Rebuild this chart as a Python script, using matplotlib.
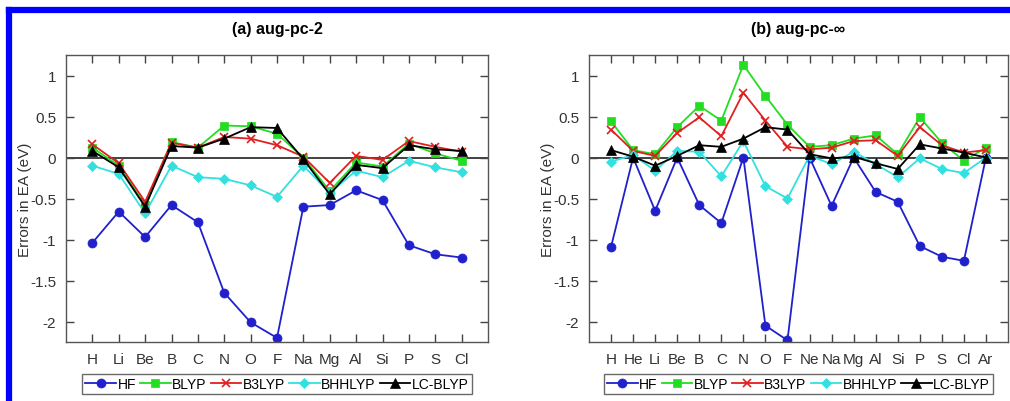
import matplotlib
matplotlib.use("Agg")
import matplotlib.pyplot as plt
from matplotlib.lines import Line2D

plt.rcParams['font.family'] = ['Liberation Sans', 'DejaVu Sans']

# elements for each basis set
elems_a = ['H', 'Li', 'Be', 'B', 'C', 'N', 'O', 'F', 'Na', 'Mg', 'Al', 'Si', 'P', 'S', 'Cl']
elems_b = ['H', 'He', 'Li', 'Be', 'B', 'C', 'N', 'O', 'F', 'Ne', 'Na', 'Mg', 'Al', 'Si',
           'P', 'S', 'Cl', 'Ar']

# errors in EA (eV), panel (a) aug-pc-2
hf_a = [-1.04, -0.66, -0.97, -0.58, -0.79, -1.65, -2.01, -2.20, -0.60, -0.58, -0.40, -0.52, -1.07, -1.18, -1.22]
blyp_a = [0.12, -0.10, -0.58, 0.19, 0.12, 0.39, 0.38, 0.29, 0.00, -0.41, -0.06, -0.11, 0.17, 0.05, -0.04]
b3lyp_a = [0.16, -0.07, -0.54, 0.18, 0.12, 0.25, 0.23, 0.15, 0.01, -0.31, 0.02, -0.03, 0.20, 0.13, 0.07]
bhhlyp_a = [-0.10, -0.20, -0.68, -0.10, -0.24, -0.26, -0.34, -0.48, -0.10, -0.43, -0.16, -0.24, -0.04, -0.12, -0.18]
lcblyp_a = [0.08, -0.12, -0.60, 0.14, 0.12, 0.23, 0.37, 0.36, -0.02, -0.45, -0.09, -0.13, 0.15, 0.10, 0.08]

# panel (b) aug-pc-inf
hf_b = [-1.09, 0.0, -0.65, 0.0, -0.58, -0.80, 0.0, -2.05, -2.23, 0.0, -0.59, 0.0, -0.42, -0.54, -1.08, -1.21, -1.26, 0.0]
blyp_b = [0.44, 0.09, 0.04, 0.37, 0.63, 0.45, 1.13, 0.75, 0.40, 0.13, 0.15, 0.23, 0.27, 0.04, 0.49, 0.18, -0.04, 0.12]
b3lyp_b = [0.34, 0.08, 0.02, 0.30, 0.49, 0.26, 0.79, 0.45, 0.13, 0.10, 0.12, 0.20, 0.21, 0.02, 0.37, 0.15, 0.06, 0.09]
bhhlyp_b = [-0.05, 0.03, -0.16, 0.08, 0.07, -0.23, 0.20, -0.35, -0.50, 0.02, -0.08, 0.07, -0.08, -0.24, -0.01, -0.14, -0.19, 0.0]
lcblyp_b = [0.09, 0.01, -0.10, 0.02, 0.15, 0.13, 0.23, 0.37, 0.34, 0.04, -0.01, 0.01, -0.07, -0.14, 0.16, 0.11, 0.06, 0.0]

methods = ['HF', 'BLYP', 'B3LYP', 'BHHLYP', 'LC-BLYP']
colors = ['#2020cc', '#22dd22', '#e02020', '#33e0e0', 'black']
markers = ['o', 's', 'x', 'D', '^']
msizes = [6.5, 5.5, 5.5, 5.5, 6.5]

W, H = 1010, 402
fig = plt.figure(figsize=(W / 100, H / 100), dpi=100)

# blue frame from the screenshot
fig.add_artist(Line2D([9 / W, 1], [1 - 11 / H, 1 - 11 / H], color='blue', lw=4.5))
fig.add_artist(Line2D([9 / W, 9 / W], [0, 1 - 11 / H], color='blue', lw=4.5))


def panel(left, right, elems, series, title):
    ax = fig.add_axes([left / W, (H - 343) / H, (right - left) / W, (343 - 56) / H])
    x = list(range(1, len(elems) + 1))
    ax.axhline(0, color='#333333', lw=1.3, zorder=1)
    for vals, name, c, m, ms in zip(series, methods, colors, markers, msizes):
        ax.plot(x, vals, color=c, marker=m, ms=ms, lw=1.3, label=name,
                markeredgewidth=1.2 if m == 'x' else 0.5)
    ax.set_xlim(0, len(elems) + 1)
    ax.set_ylim(-2.25, 1.25)
    ax.set_xticks(x)
    ax.set_xticklabels(elems)
    ax.set_yticks([-2, -1.5, -1, -0.5, 0, 0.5, 1])
    ax.set_yticklabels(['-2', '-1.5', '-1', '-0.5', '0', '0.5', '1'])
    ax.tick_params(direction='in', top=True, right=True, length=6, width=1,
                   labelsize=11, colors='#444444', labelcolor='#333333', pad=7)
    for s in ax.spines.values():
        s.set_color('#555555')
        s.set_linewidth(1)
    ax.set_ylabel('Errors in EA (eV)', fontsize=11, color='#333333')
    ax.yaxis.set_label_coords(-34 / (right - left), 0.5)
    ax.set_title(title, fontsize=11.5, fontweight='bold', pad=16)
    cx = (left + right) / 2 / W
    ax.legend(loc='center', bbox_to_anchor=(cx, 17 / H), bbox_transform=fig.transFigure,
              ncol=5, fontsize=10, frameon=True, fancybox=False, edgecolor='#444444',
              handlelength=2.2, handletextpad=0.1, columnspacing=0.3,
              borderpad=0.25, borderaxespad=0)
    return ax


panel(66, 488, elems_a, [hf_a, blyp_a, b3lyp_a, bhhlyp_a, lcblyp_a], '(a) aug-pc-2')
panel(589, 1008, elems_b, [hf_b, blyp_b, b3lyp_b, bhhlyp_b, lcblyp_b], '(b) aug-pc-\u221e')

fig.savefig('out.png', dpi=100)
